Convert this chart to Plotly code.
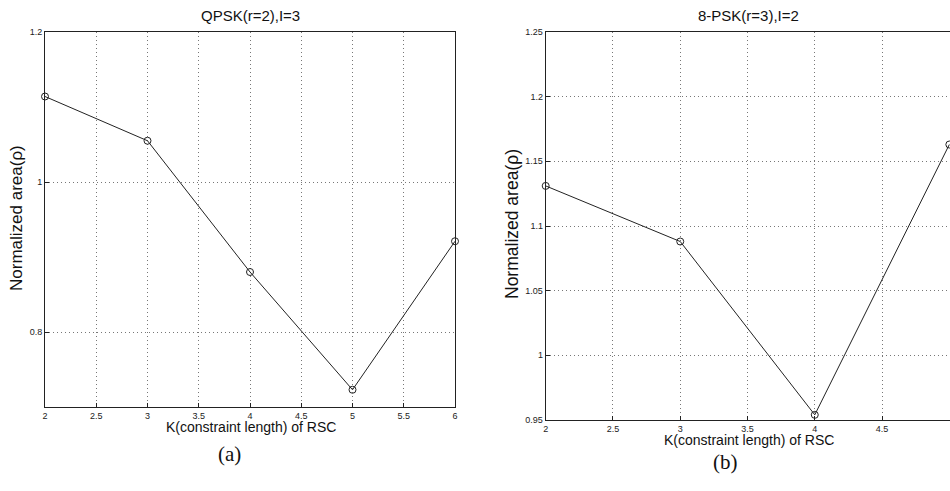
import plotly.graph_objects as go

# ---- data ----
k_a = [2, 3, 4, 5, 6]
rho_a = [1.114, 1.055, 0.880, 0.723, 0.921]
k_b = [2, 3, 4, 5]
rho_b = [1.131, 1.088, 0.954, 1.163]

xticks_a = [2, 2.5, 3, 3.5, 4, 4.5, 5, 5.5, 6]
yticks_a = [0.8, 1.0, 1.2]
ytext_a = ["0.8", "1", "1.2"]
xticks_b = [2, 2.5, 3, 3.5, 4, 4.5, 5]
yticks_b = [0.95, 1.0, 1.05, 1.1, 1.15, 1.2, 1.25]
ytext_b = ["0.95", "1", "1.05", "1.1", "1.15", "1.2", "1.25"]

FONT = "Arial, Liberation Sans, sans-serif"
SERIF = "Times New Roman, Liberation Serif, serif"

W, H = 950, 491

def dx(px):
    return px / W
def dy(py):
    return 1 - py / H

fig = go.Figure()
line_style = dict(color="#222222", width=1)
marker_style = dict(symbol="circle-open", size=7, color="#222222", line=dict(width=1))

fig.add_trace(go.Scatter(x=k_a, y=rho_a, mode="lines+markers", line=line_style,
                         marker=marker_style, xaxis="x", yaxis="y", showlegend=False,
                         cliponaxis=False))
fig.add_trace(go.Scatter(x=k_b, y=rho_b, mode="lines+markers", line=line_style,
                         marker=marker_style, xaxis="x2", yaxis="y2", showlegend=False,
                         cliponaxis=False))

axis_common = dict(
    showline=True, linecolor="#222222", linewidth=1, mirror=True,
    ticks="inside", ticklen=4, tickcolor="#222222",
    showgrid=True, gridcolor="#777777", griddash="1px,3px", gridwidth=1,
    zeroline=False, automargin=False,
    tickfont=dict(family=FONT, size=9, color="#222222"),
)

fig.update_layout(
    width=W, height=H, margin=dict(l=0, r=0, t=0, b=0, autoexpand=False),
    paper_bgcolor="white", plot_bgcolor="white",
    xaxis=dict(domain=[dx(45), dx(455)], range=[2, 6], tickvals=xticks_a,
               ticktext=[f"{v:g}" for v in xticks_a], anchor="y", **axis_common),
    yaxis=dict(domain=[dy(407), dy(32)], range=[0.7, 1.2], tickvals=yticks_a,
               ticktext=ytext_a, anchor="x", **axis_common),
    xaxis2=dict(domain=[dx(545.7), dx(950)], range=[2, 5.005], tickvals=xticks_b,
                ticktext=[f"{v:g}" for v in xticks_b], anchor="y2", **axis_common),
    yaxis2=dict(domain=[dy(420), dy(32)], range=[0.95, 1.25], tickvals=yticks_b,
                ticktext=ytext_b, anchor="x2", **axis_common),
)

def note(text, x, y, size, family=FONT, angle=0):
    return dict(text=text, x=dx(x), y=dy(y), xref="paper", yref="paper",
                xanchor="center", yanchor="middle", showarrow=False, textangle=angle,
                font=dict(family=family, size=size, color="#111111"))

ann = [
    note("QPSK(r=2),I=3", 251, 15, 15),
    note("8-PSK(r=3),I=2", 748, 15, 15),
    note("Normalized area(ρ)", 17, 218, 17, angle=-90),
    note("Normalized area(ρ)", 512, 224, 17.5, angle=-90),
    note("K(constraint length) of RSC", 251, 427, 14),
    note("K(constraint length) of RSC", 749, 440, 14),
    note("(a)", 229, 454, 21, family=SERIF),
    note("(b)", 725, 462, 21, family=SERIF),
]
fig.update_layout(annotations=ann)

fig.write_html(
    "out.html",
    config={"displayModeBar": False},
    post_script="document.body.style.margin='0';document.body.style.overflow='hidden';",
)
